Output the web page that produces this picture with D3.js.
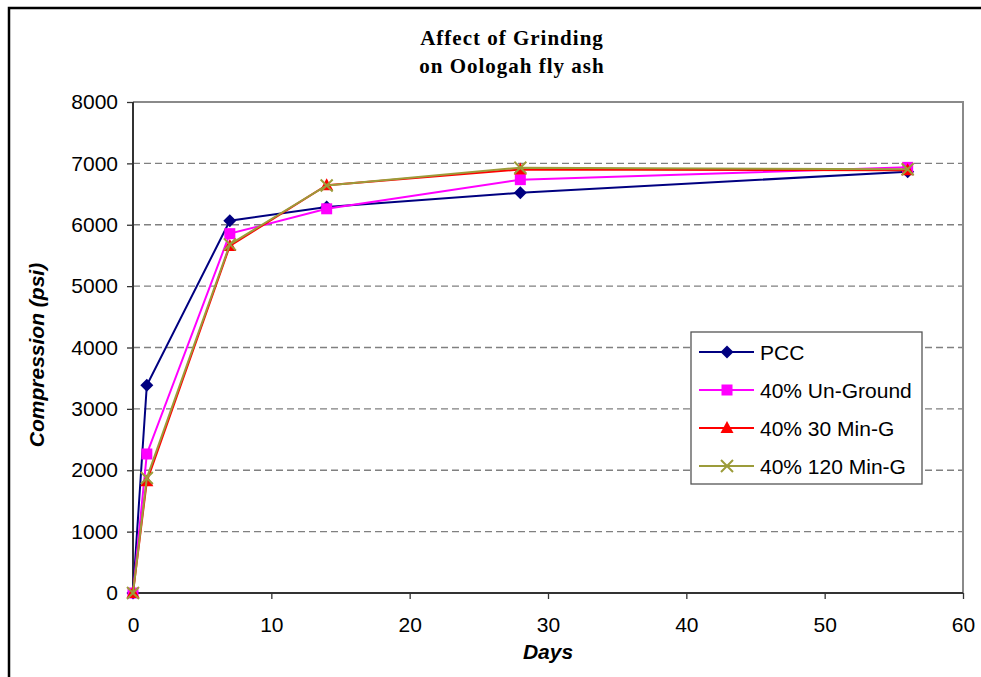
<!DOCTYPE html>
<html><head><meta charset="utf-8">
<script src="https://cdn.jsdelivr.net/npm/d3@7"></script>
<style>body{margin:0;background:#fff}svg{display:block}</style>
</head><body>
<svg id="c" width="981" height="677"></svg>
<script>
const days = [0, 1, 7, 14, 28, 56];
const pcc = [0, 3385, 6065, 6290, 6520, 6865];
const unGround = [0, 2265, 5855, 6260, 6735, 6935];
const min30 = [0, 1820, 5655, 6645, 6900, 6890];
const min120 = [0, 1875, 5680, 6640, 6930, 6905];
const seriesNames = ["PCC", "40% Un-Ground", "40% 30 Min-G", "40% 120 Min-G"];
const seriesColors = ["#000080", "#FF00FF", "#FF0000", "#9C9C3A"];
const seriesMarkers = ["diamond", "square", "triangle", "x"];
const xTicks = [0, 10, 20, 30, 40, 50, 60];
const yTicks = [0, 1000, 2000, 3000, 4000, 5000, 6000, 7000, 8000];
const titleLines = ["Affect of Grinding", "on Oologah fly ash"];

const svg = d3.select("#c");
const L = 133, R = 963, T = 102, B = 593;
const x = d3.scaleLinear().domain([0, 60]).range([L, R]);
const y = d3.scaleLinear().domain([0, 8000]).range([B, T]);
const sans = "Liberation Sans, Arial, sans-serif";

// outer frame
svg.append("path").attr("d", `M9,681V8H985`).attr("fill", "none").attr("stroke", "#000").attr("stroke-width", 2.5);

// gridlines
svg.append("g").selectAll("line").data(yTicks.filter(d => d > 0 && d < 8000)).join("line")
  .attr("x1", L).attr("x2", R).attr("y1", d => y(d)).attr("y2", d => y(d))
  .attr("stroke", "#808080").attr("stroke-width", 1.3).attr("stroke-dasharray", "7,4");

// plot border top/right
svg.append("path").attr("d", `M${L},${T}H${R}V${B}`).attr("fill", "none").attr("stroke", "#8a8a8a").attr("stroke-width", 2);

// axes
const yAxis = d3.axisLeft(y).tickValues(yTicks).tickSize(6).tickPadding(9).tickFormat(d3.format("d"));
const gy = svg.append("g").attr("transform", `translate(${L},0)`).call(yAxis);
const xAxis = d3.axisBottom(x).tickValues(xTicks).tickSize(6).tickPadding(18).tickFormat(d3.format("d"));
const gx = svg.append("g").attr("transform", `translate(0,${B})`).call(xAxis);
[gx, gy].forEach(g => {
  g.select(".domain").attr("stroke", "#333").attr("stroke-width", 2);
  g.selectAll(".tick line").attr("stroke", "#333").attr("stroke-width", 1.3);
  g.selectAll("text").attr("font-family", sans).attr("font-size", 21).attr("fill", "#000");
});
gx.select(".domain").attr("d", `M${L},0H${R}`);
gy.select(".domain").attr("d", `M0,${B}V${T}`);

// titles
svg.append("text").attr("text-anchor", "middle")
  .attr("font-family", "Liberation Serif, Times New Roman, serif").attr("font-weight", "bold").attr("font-size", 21)
  .attr("letter-spacing", 1)
  .selectAll("tspan").data(titleLines).join("tspan").attr("x", 512).attr("y", (d, i) => 45 + i * 28).text(d => d);
svg.append("text").attr("x", 548).attr("y", 659).attr("text-anchor", "middle")
  .attr("font-family", sans).attr("font-weight", "bold").attr("font-style", "italic").attr("font-size", 21).text("Days");
svg.append("text").attr("transform", `translate(44,355) rotate(-90)`).attr("text-anchor", "middle")
  .attr("font-family", sans).attr("font-weight", "bold").attr("font-style", "italic").attr("font-size", 21).text("Compression (psi)");

function marker(g, type, color) {
  if (type === "diamond") g.append("path").attr("d", "M0,-6.5L6.5,0L0,6.5L-6.5,0Z").attr("fill", color);
  else if (type === "square") g.append("rect").attr("x", -5.5).attr("y", -5.5).attr("width", 11).attr("height", 11).attr("fill", color);
  else if (type === "triangle") g.append("path").attr("d", "M0,-7L6.5,5L-6.5,5Z").attr("fill", color);
  else g.append("path").attr("d", "M-6,-6L6,6M-6,6L6,-6").attr("stroke", color).attr("stroke-width", 2).attr("fill", "none");
}

const allSeries = [pcc, unGround, min30, min120];
const line = d3.line().x(d => x(d[0])).y(d => y(d[1]));
allSeries.forEach((vals, i) => {
  const pts = days.map((d, j) => [d, vals[j]]);
  const g = svg.append("g");
  g.append("path").attr("d", line(pts)).attr("fill", "none").attr("stroke", seriesColors[i]).attr("stroke-width", 2);
  pts.forEach(p => {
    const m = g.append("g").attr("transform", `translate(${x(p[0])},${y(p[1])})`);
    marker(m, seriesMarkers[i], seriesColors[i]);
  });
});

// legend
const lg = svg.append("g").attr("transform", "translate(691,332)");
lg.append("rect").attr("width", 231).attr("height", 152).attr("fill", "#fff").attr("stroke", "#555").attr("stroke-width", 1.3);
seriesNames.forEach((name, i) => {
  const yy = 20 + i * 38;
  const e = lg.append("g").attr("transform", `translate(0,${yy})`);
  e.append("line").attr("x1", 8).attr("x2", 63).attr("stroke", seriesColors[i]).attr("stroke-width", 2);
  marker(e.append("g").attr("transform", "translate(36,0)"), seriesMarkers[i], seriesColors[i]);
  e.append("text").attr("x", 69).attr("y", 7.5).attr("font-family", sans).attr("font-size", 21).text(name);
});
</script>
</body></html>
